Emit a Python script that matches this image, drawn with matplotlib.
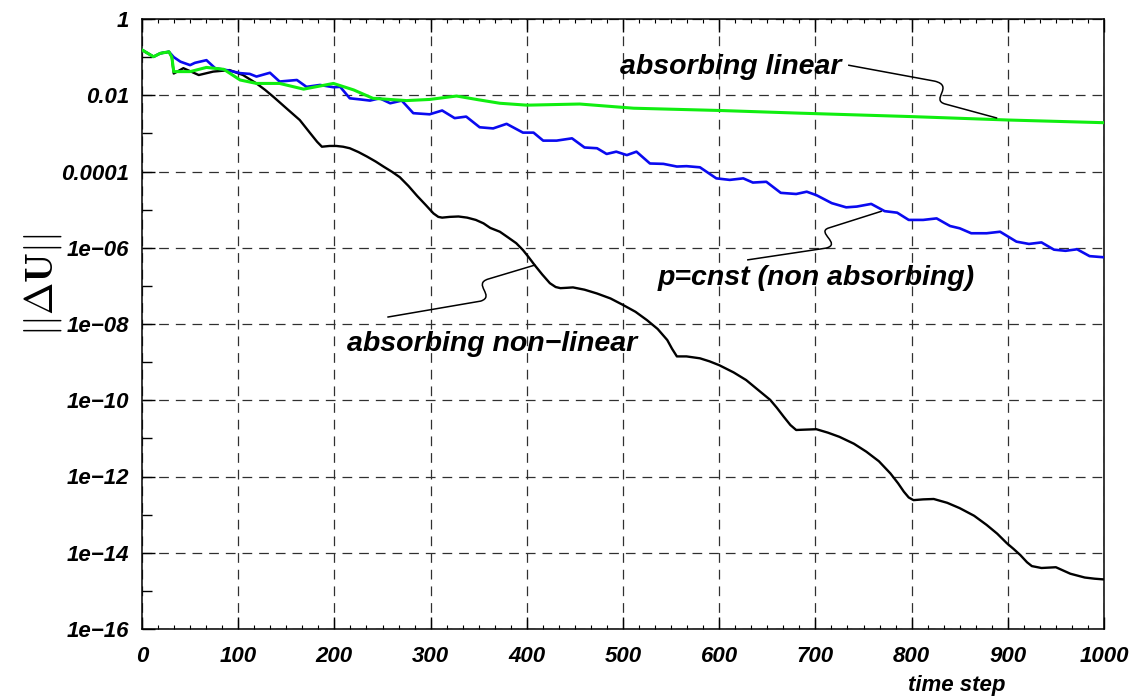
import matplotlib
matplotlib.use('Agg')
import matplotlib.pyplot as plt
from matplotlib.path import Path
from matplotlib.patches import PathPatch
from matplotlib.ticker import FixedLocator, AutoMinorLocator
import numpy as np

# time steps and log10(||dU||)
t_black = [0, 12, 19, 28, 31, 33, 43, 59, 74, 91, 105, 119, 128, 137, 150, 164, 175, 182,
           187, 195, 202, 209, 216, 225, 234, 243, 251, 260, 268, 277, 286, 295, 303, 308,
           312, 320, 329, 338, 347, 355, 362, 372, 380, 389, 396, 402, 408, 416, 424, 430,
           435, 442, 448, 460, 473, 487, 500, 513, 525, 536, 546, 551, 556, 566, 580, 590,
           600, 615, 628, 640, 653, 660, 667, 674, 680, 690, 701, 713, 725, 740, 753, 766,
           778, 786, 792, 797, 802, 812, 823, 837, 850, 865, 878, 889, 899, 906, 913, 920,
           925, 935, 950, 965, 980, 990, 1000]
log_black = [-0.81, -0.99, -0.90, -0.86, -1.00, -1.43, -1.29, -1.47, -1.38, -1.34, -1.47,
             -1.69, -1.86, -2.05, -2.34, -2.65, -3.00, -3.22, -3.35, -3.33, -3.33, -3.35,
             -3.39, -3.49, -3.61, -3.74, -3.87, -4.01, -4.15, -4.38, -4.64, -4.88, -5.10,
             -5.19, -5.21, -5.19, -5.18, -5.21, -5.27, -5.36, -5.48, -5.58, -5.72, -5.88,
             -6.06, -6.25, -6.45, -6.70, -6.93, -7.03, -7.06, -7.05, -7.04, -7.10, -7.20,
             -7.33, -7.50, -7.68, -7.90, -8.13, -8.42, -8.65, -8.85, -8.85, -8.90, -8.98,
             -9.08, -9.27, -9.47, -9.72, -9.99, -10.20, -10.43, -10.65, -10.78, -10.77,
             -10.76, -10.85, -10.96, -11.14, -11.35, -11.60, -11.92, -12.18, -12.40, -12.55,
             -12.62, -12.60, -12.59, -12.69, -12.83, -13.03, -13.27, -13.50, -13.75, -13.90,
             -14.06, -14.25, -14.35, -14.40, -14.38, -14.55, -14.65, -14.68, -14.70]

t_blue = [0, 12, 19, 28, 33, 40, 50, 55, 67, 76, 88, 102, 112, 119, 133, 143, 161, 171, 185,
          199, 206, 216, 227, 237, 247, 258, 270, 282, 299, 312, 325, 337, 351, 365, 379, 396,
          407, 417, 431, 447, 460, 473, 483, 493, 504, 514, 528, 542, 556, 566, 580, 597, 611,
          625, 635, 649, 664, 680, 691, 701, 717, 732, 743, 758, 772, 785, 797, 812, 826, 840,
          850, 862, 878, 892, 909, 922, 935, 948, 960, 972, 985, 1000]
log_blue = [-0.81, -0.99, -0.90, -0.86, -1.00, -1.12, -1.21, -1.15, -1.08, -1.29, -1.34,
            -1.42, -1.44, -1.51, -1.41, -1.64, -1.60, -1.78, -1.73, -1.79, -1.78, -2.08,
            -2.11, -2.14, -2.08, -2.21, -2.14, -2.47, -2.50, -2.40, -2.60, -2.56, -2.84,
            -2.87, -2.75, -2.98, -2.98, -3.19, -3.19, -3.13, -3.37, -3.39, -3.54, -3.48,
            -3.57, -3.48, -3.79, -3.80, -3.87, -3.86, -3.89, -4.18, -4.22, -4.18, -4.29,
            -4.27, -4.56, -4.59, -4.53, -4.62, -4.83, -4.94, -4.92, -4.85, -5.04, -5.08,
            -5.27, -5.27, -5.23, -5.43, -5.49, -5.62, -5.62, -5.58, -5.84, -5.90, -5.86,
            -6.05, -6.08, -6.04, -6.22, -6.25]

t_green = [0, 12, 19, 28, 31, 33, 50, 67, 85, 102, 119, 143, 168, 199, 220, 240, 275, 299,
           327, 350, 372, 400, 455, 511, 601, 684, 800, 901, 1000]
log_green = [-0.81, -0.99, -0.90, -0.86, -1.00, -1.38, -1.38, -1.27, -1.32, -1.60, -1.69,
             -1.69, -1.84, -1.69, -1.86, -2.08, -2.14, -2.11, -2.02, -2.12, -2.21, -2.26,
             -2.23, -2.34, -2.40, -2.47, -2.56, -2.65, -2.72]

x_ticks = list(range(0, 1001, 100))
y_exps = [0, -2, -4, -6, -8, -10, -12, -14, -16]
y_labels = ['1', '0.01', '0.0001', '1e\u221206', '1e\u221208', '1e\u221210',
            '1e\u221212', '1e\u221214', '1e\u221216']

plt.rcParams['mathtext.fontset'] = 'cm'
plt.rcParams['lines.scale_dashes'] = False
font = dict(family=['Liberation Sans', 'DejaVu Sans'], weight='bold', style='italic')

fig = plt.figure(figsize=(11.39, 6.99), dpi=100)
ax = fig.add_axes([142 / 1139, 1 - 629 / 699, 962 / 1139, 610 / 699])

ax.plot(t_black, 10.0 ** np.array(log_black), color='black', lw=1.7, zorder=3)
ax.plot(t_blue, 10.0 ** np.array(log_blue), color='#0a0af0', lw=1.9, zorder=4)
ax.plot(t_green, 10.0 ** np.array(log_green), color='#10ee10', lw=2.2, zorder=5)

ax.set_yscale('log')
ax.set_xlim(0, 1000)
ax.set_ylim(1e-16, 1)

ax.xaxis.set_major_locator(FixedLocator(x_ticks))
ax.xaxis.set_minor_locator(AutoMinorLocator(6))
ax.set_xticks(x_ticks)
ax.set_xticklabels([str(v) for v in x_ticks], fontsize=16, **font)
ax.set_yticks([10.0 ** e for e in y_exps])
ax.set_yticklabels(y_labels, fontsize=16, **font)
ax.yaxis.set_minor_locator(FixedLocator([10.0 ** (e - 1) for e in y_exps[:-1]]))
ax.yaxis.set_minor_formatter(plt.NullFormatter())

ax.tick_params(axis='x', which='major', direction='in', length=9, width=1, top=True, pad=12)
ax.tick_params(axis='x', which='minor', direction='in', length=3, width=0.8, top=True)
ax.tick_params(axis='y', which='major', direction='in', length=9, width=1, pad=9)
ax.tick_params(axis='y', which='minor', direction='in', length=7, width=1)

ax.grid(True, which='major', color='#303030', linestyle=(0, (7, 5)), linewidth=0.9)
for s in ax.spines.values():
    s.set_linewidth(1.1)

ax.set_xlabel('time step', fontsize=16, va='center', **font)
ax.xaxis.set_label_coords(0.847, -0.092)
ax.set_ylabel(r'$||\Delta\mathbf{U}||$', fontsize=28, va='center')
ax.yaxis.set_label_coords(-0.103, 0.564)

# labels with curly leader lines: text, start, bend (M1, C1, C2, M2), end
notes = [
    ('absorbing linear', (497, -1.26), 'left',
     [(734, -1.21), (824, -1.63), (845, -1.76), (819, -2.12), (835, -2.23), (889, -2.60)]),
    ('p=cnst (non absorbing)', (866, -6.79), 'right',
     [(629, -6.32), (711, -6.01), (728, -5.90), (700, -5.59), (714, -5.48), (769, -5.04)]),
    ('absorbing non\u2212linear', (213, -8.52), 'left',
     [(255, -7.82), (352, -7.40), (368, -7.27), (343, -6.95), (360, -6.82), (409, -6.45)]),
]
codes = [Path.MOVETO, Path.LINETO, Path.CURVE4, Path.CURVE4, Path.CURVE4, Path.LINETO]
for txt, (tx, ty), ha, pts in notes:
    ax.text(tx, 10.0 ** ty, txt, fontsize=20.5, ha=ha, va='center', zorder=6, **font)
    verts = [(p, 10.0 ** q) for p, q in pts]
    ax.add_patch(PathPatch(Path(verts, codes), fill=False, lw=1.1, color='black', zorder=6))

fig.savefig('out.png', dpi=100)
